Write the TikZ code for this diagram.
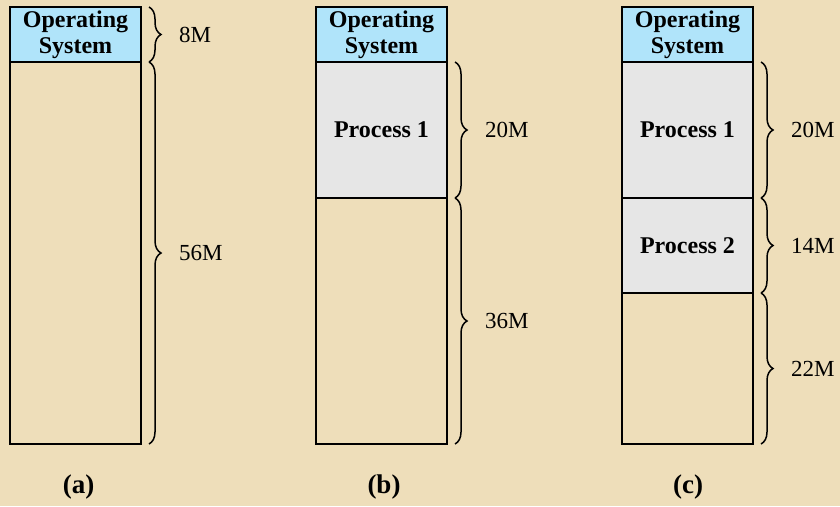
\documentclass[tikz,border=0pt]{standalone}
\usepackage{fontspec}
\setmainfont{Liberation Serif}
\usepackage{tikz}
\usetikzlibrary{decorations.pathreplacing}

\definecolor{parchment}{RGB}{238,222,186}
\definecolor{osblue}{RGB}{176,228,250}
\definecolor{procgray}{RGB}{230,230,230}

\tikzset{
    memblk/.style={draw, line width=1.6pt, minimum width=131pt, inner sep=0pt, outer sep=0pt,
        font=\bfseries\fontsize{24}{26}\selectfont, align=center},
    osblk/.style={memblk, fill=osblue, minimum height=55pt},
    procblk/.style={memblk, fill=procgray},
    freeblk/.style={memblk},
    sizebrace/.style={line width=1.5pt, decorate, decoration={brace, amplitude=12pt}},
    sizelbl/.style={midway, right=26pt, font=\fontsize{23}{25}\selectfont},
    caption/.style={font=\bfseries\fontsize{27}{29}\selectfont}
}

\begin{document}
\begin{tikzpicture}[x=1pt, y=1pt]
    % Paper background
    \fill[parchment] (0,0) rectangle (840,-506);
    \useasboundingbox (0,0) rectangle (840,-506);

    % (a) only the operating system loaded
    \node[osblk] (osA) at (75.5,-34.5) {Operating\\System};
    \node[freeblk, minimum height=382pt, anchor=north] (freeA) at (osA.south) {};
    \draw[sizebrace] ([xshift=8pt]osA.north east) -- ([xshift=8pt]osA.south east) node[sizelbl] {8M};
    \draw[sizebrace] ([xshift=8pt]freeA.north east) -- ([xshift=8pt]freeA.south east) node[sizelbl] {56M};
    \node[caption] (capA) at (78.5,-487) {(a)};

    % (b) process 1 swapped in
    \node[osblk] (osB) at (381.5,-34.5) {Operating\\System};
    \node[procblk, minimum height=136pt, anchor=north] (procB1) at (osB.south) {Process 1};
    \node[freeblk, minimum height=246pt, anchor=north] (freeB) at (procB1.south) {};
    \draw[sizebrace] ([xshift=8pt]procB1.north east) -- ([xshift=8pt]procB1.south east) node[sizelbl] {20M};
    \draw[sizebrace] ([xshift=8pt]freeB.north east) -- ([xshift=8pt]freeB.south east) node[sizelbl] {36M};
    \node[caption] (capB) at (384,-487) {(b)};

    % (c) process 2 follows process 1
    \node[osblk] (osC) at (687.5,-34.5) {Operating\\System};
    \node[procblk, minimum height=136pt, anchor=north] (procC1) at (osC.south) {Process 1};
    \node[procblk, minimum height=95pt, anchor=north] (procC2) at (procC1.south) {Process 2};
    \node[freeblk, minimum height=151pt, anchor=north] (freeC) at (procC2.south) {};
    \draw[sizebrace] ([xshift=8pt]procC1.north east) -- ([xshift=8pt]procC1.south east) node[sizelbl] {20M};
    \draw[sizebrace] ([xshift=8pt]procC2.north east) -- ([xshift=8pt]procC2.south east) node[sizelbl] {14M};
    \draw[sizebrace] ([xshift=8pt]freeC.north east) -- ([xshift=8pt]freeC.south east) node[sizelbl] {22M};
    \node[caption] (capC) at (688,-487) {(c)};
\end{tikzpicture}
\end{document}
